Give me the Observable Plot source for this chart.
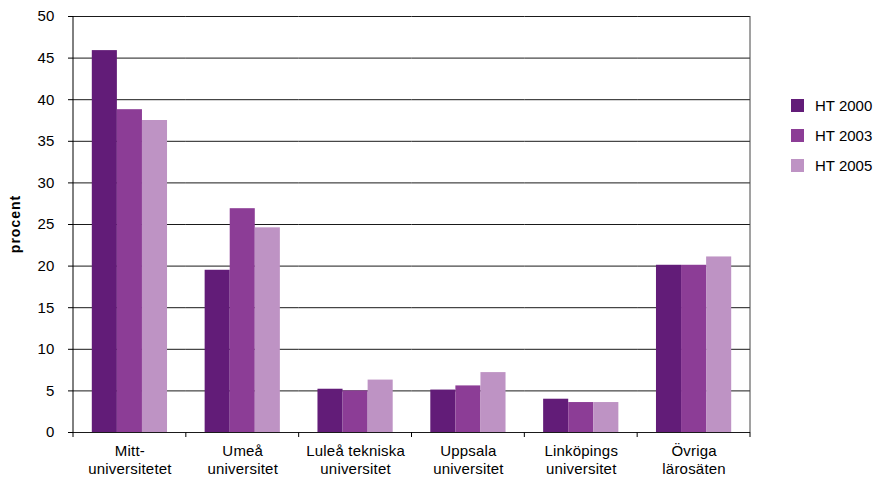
<!DOCTYPE html>
<html>
<head>
<meta charset="utf-8">
<script src="https://cdn.jsdelivr.net/npm/d3@7"></script>
<script src="https://cdn.jsdelivr.net/npm/@observablehq/plot@0.6"></script>
<style>
  html, body { margin: 0; padding: 0; background: #fff; }
  #wrap { position: relative; width: 875px; height: 478px; font-family: "Liberation Sans", Arial, sans-serif; }
  #wrap svg text { letter-spacing: 0.2px; }
  #legend { position: absolute; left: 791px; top: 99px; font-size: 15px; color: #000; }
  #legend .row { display: flex; align-items: center; height: 13px; margin-bottom: 17px; }
  #legend .sw { width: 13px; height: 13px; margin-right: 11px; }
</style>
</head>
<body>
<div id="wrap"><div id="legend"></div></div>
<script>
const categories = ["Mitt-universitetet", "Umeå universitet", "Luleå tekniska universitet", "Uppsala universitet", "Linköpings universitet", "Övriga lärosäten"];
const categoryLabels = ["Mitt-\nuniversitetet", "Umeå\nuniversitet", "Luleå tekniska\nuniversitet", "Uppsala\nuniversitet", "Linköpings\nuniversitet", "Övriga\nlärosäten"];
const series = ["HT 2000", "HT 2003", "HT 2005"];
const ht2000 = [45.9, 19.5, 5.2, 5.1, 4.0, 20.1];
const ht2003 = [38.8, 26.9, 5.0, 5.6, 3.6, 20.1];
const ht2005 = [37.5, 24.6, 6.3, 7.2, 3.6, 21.1];
const yTicks = [0, 5, 10, 15, 20, 25, 30, 35, 40, 45, 50];
const colors = ["#621c78", "#8c3d96", "#be93c4"];
const yLabel = "procent";

const seriesValues = [ht2000, ht2003, ht2005];
const rows = [];
categories.forEach((c, i) => series.forEach((s, j) => rows.push({category: c, series: s, value: seriesValues[j][i]})));
const labelOf = new Map(categories.map((c, i) => [c, categoryLabels[i]]));

const chart = Plot.plot({
  width: 875,
  height: 478,
  marginLeft: 73,
  marginRight: 125,
  marginTop: 16,
  marginBottom: 46,
  style: {fontFamily: "'Liberation Sans', Arial, sans-serif", color: "#000", background: "#fff", overflow: "visible"},
  fx: {domain: categories, padding: 0, round: false},
  x: {domain: series, paddingInner: 0, paddingOuter: 0.75, round: false, axis: null},
  y: {domain: [0, 50]},
  color: {domain: series, range: colors},
  marks: [
    Plot.ruleY(yTicks, {stroke: "#1a1a1a", strokeWidth: 1}),
    Plot.barY(rows, {fx: "category", x: "series", y: "value", fill: "series", inset: 0}),
    Plot.axisY({ticks: yTicks, tickSize: 5, tickPadding: 14, fontSize: 15, label: null, stroke: "#000"}),
    Plot.axisFx({anchor: "bottom", tickSize: 0, tickPadding: 11, fontSize: 15, lineHeight: 1.2, label: null, tickFormat: d => labelOf.get(d)})
  ]
});

document.getElementById("wrap").prepend(chart);

// frame lines and category boundary ticks, from the plot's own scales
const fxs = chart.scale("fx");
const ys = chart.scale("y");
const [x0, x1] = fxs.range;
const y0 = ys.apply(0), y50 = ys.apply(50);
const step = (x1 - x0) / fxs.domain.length;
const svg = d3.select(chart);
const g = svg.append("g").attr("stroke", "#000").attr("stroke-width", 1);
g.append("line").attr("x1", x0).attr("x2", x0).attr("y1", y50).attr("y2", y0);
g.append("line").attr("x1", x1).attr("x2", x1).attr("y1", y50).attr("y2", y0).attr("stroke", "#444");
d3.range(fxs.domain.length + 1).forEach(i => {
  const x = x0 + i * step;
  g.append("line").attr("x1", x).attr("x2", x).attr("y1", y0).attr("y2", y0 + 5);
});
svg.append("text")
  .attr("transform", `translate(20,${(y0 + y50) / 2}) rotate(-90)`)
  .attr("text-anchor", "middle")
  .attr("font-weight", "bold")
  .attr("font-size", 14)
  .attr("fill", "#000")
  .style("letter-spacing", "1px")
  .text(yLabel);

// legend
const legend = d3.select("#legend");
series.forEach((s, j) => {
  const row = legend.append("div").attr("class", "row");
  row.append("div").attr("class", "sw").style("background", colors[j]);
  row.append("span").text(s);
});
</script>
</body>
</html>
